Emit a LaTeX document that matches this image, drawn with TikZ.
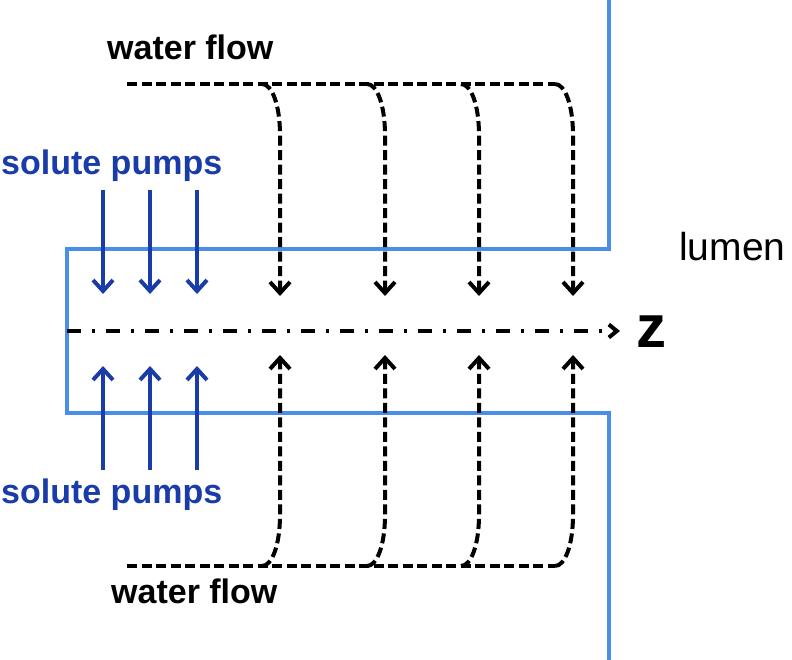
\documentclass[tikz,border=0pt]{standalone}
\usepackage{fontspec}
\setmainfont{Liberation Sans}
\usetikzlibrary{arrows.meta}
\definecolor{wallblue}{HTML}{4A8FE7}
\definecolor{pumpblue}{HTML}{1A3CA8}
\tikzset{
  wall/.style={draw=wallblue, line width=3.5pt},
  pump/.style={draw=pumpblue, line width=4pt, -{Straight Barb[length=11pt,width=20pt]}},
  flow/.style={draw=black, line width=4pt, dash pattern=on 10pt off 4.5pt},
  flowarrow/.style={flow, -{Straight Barb[length=11pt,width=20pt]}},
  axis/.style={draw=black, line width=4pt, dash pattern=on 14pt off 11pt on 3pt off 11pt, -{Straight Barb[length=8pt,width=13pt]}},
  lab/.style={inner sep=0pt, anchor=base west, font=\fontsize{34}{38}\selectfont\bfseries},
}
\begin{document}
\begin{tikzpicture}[x=1pt,y=-1pt]
\useasboundingbox (0,0) rectangle (792,660);
% wall
\coordinate (wt) at (609,0);
\coordinate (wtr) at (609,249);
\coordinate (wtl) at (67,249);
\coordinate (wbl) at (67,413);
\coordinate (wbr) at (609,413);
\coordinate (wb) at (609,660);
\draw[wall] (wt) -- (wtr) -- (wtl) -- (wbl) -- (wbr) -- (wb);
% axis
\coordinate (ax0) at (67,331);
\coordinate (ax1) at (620,331);
\draw[axis] (ax0) -- (ax1);
\node[inner sep=0pt, anchor=base, font=\fontsize{60}{60}\selectfont\bfseries] (z) at (651,347) {z};
% labels
\node[lab] (wft) at (107,60) {water flow};
\node[lab] (wfb) at (111,603) {water flow};
\node[lab, text=pumpblue] (spt) at (1,175) {solute pumps};
\node[lab, text=pumpblue] (spb) at (1,503) {solute pumps};
\node[inner sep=0pt, anchor=base west, font=\fontsize{39}{42}\selectfont] (lumen) at (679,261) {lumen};
% pumps
\foreach \x [count=\i] in {103,150,197} {
  \coordinate (pt\i) at (\x,190);
  \coordinate (ptt\i) at (\x,294);
  \coordinate (pb\i) at (\x,470);
  \coordinate (pbt\i) at (\x,366);
  \draw[pump] (pt\i) -- (ptt\i);
  \draw[pump] (pb\i) -- (pbt\i);
}
% water flow top
\coordinate (ft0) at (127,84);
\coordinate (ft1) at (555,84);
\draw[flow] (ft0) -- (ft1);
\foreach \x [count=\i] in {280,385,479,573} {
  \coordinate (bt\i) at (\x-18,84);
  \coordinate (at\i) at (\x,296);
  \draw[flowarrow] (bt\i) .. controls (\x-8,84) and (\x,105) .. (\x,135) -- (at\i);
  \coordinate (bb\i) at (\x-18,566);
  \coordinate (ab\i) at (\x,355);
  \draw[flowarrow] (bb\i) .. controls (\x-8,566) and (\x,545) .. (\x,515) -- (ab\i);
}
\coordinate (fb0) at (127,566);
\coordinate (fb1) at (555,566);
\draw[flow] (fb0) -- (fb1);
\end{tikzpicture}
\end{document}
